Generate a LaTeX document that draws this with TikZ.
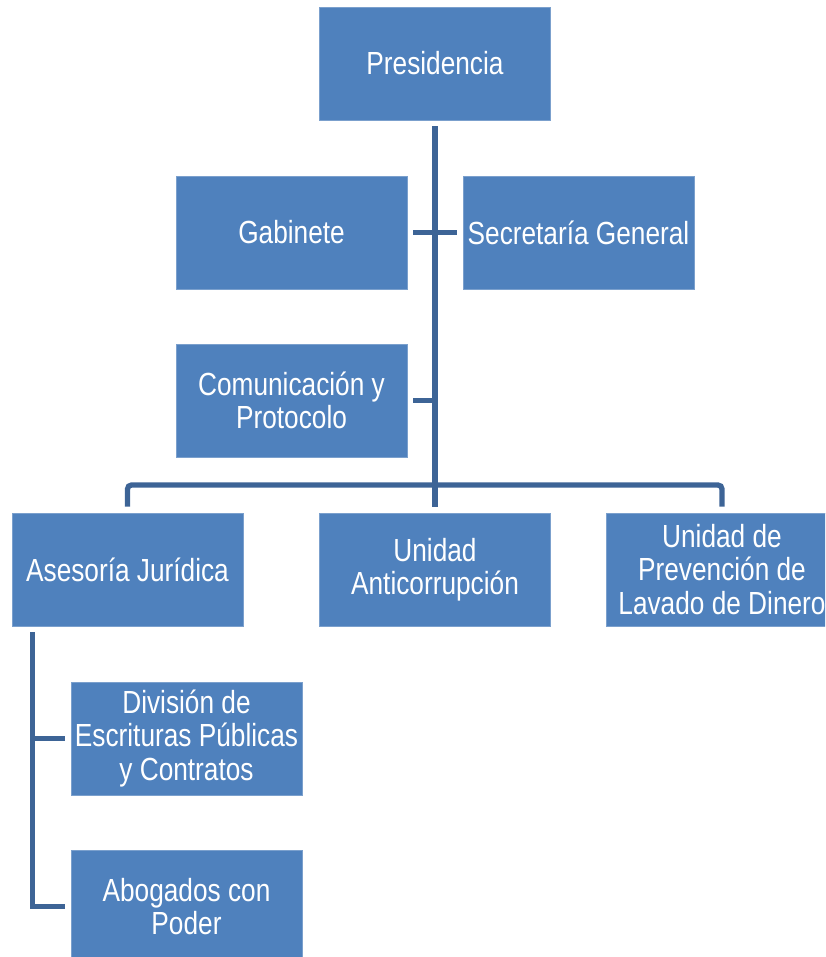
\documentclass[tikz,border=0pt]{standalone}
\usepackage{fontspec}
\setmainfont[FakeStretch=0.82]{Liberation Sans}
\usepackage{xcolor}
\usepackage{tikz}
\definecolor{boxblue}{HTML}{4F81BD}
\definecolor{lineblue}{HTML}{3D6496}
\tikzset{
    unit/.style={draw=boxblue!75!white, line width=0.8pt, fill=boxblue, text=white,
      minimum width=231pt, minimum height=113pt, inner sep=0pt, align=center,
      font=\fontsize{32}{33.5}\selectfont},
    link/.style={draw=lineblue, line width=5.3pt}}

\begin{document}
\begin{tikzpicture}[x=1pt, y=-1pt]
    \useasboundingbox (0,0) rectangle (825,957);
    \clip (0,0) rectangle (825,957);
    \node[unit] (pres) at (435, 63.5) {Presidencia};
    \node[unit] (gab) at (291.5, 232.5) {Gabinete};
    \node[unit] (sec) at (578.5, 232.5) {Secretaría General};
    \node[unit] (com) at (291.5, 400.5) {Comunicación y\\Protocolo};
    \node[unit] (ase) at (127.5, 569.5) {Asesoría Jurídica};
    \node[unit] (anti) at (435, 569.5) {Unidad\\Anticorrupción};
    \node[unit] (lav) at (722, 569.5) {Unidad de\\Prevención de\\Lavado de Dinero};
    \node[unit] (div) at (186.5, 738.5) {División de\\Escrituras Públicas\\y Contratos};
    \node[unit] (abo) at (186.5, 906.5) {Abogados con\\Poder};
    \coordinate (bus) at (435, 485);
    \coordinate (sub) at ([xshift=21pt, yshift=-6pt]ase.south west);
    \draw[link, shorten <=6pt, shorten >=6pt] (pres) -- (anti);
    \draw[link, shorten <=6pt, shorten >=6pt] (gab) -- (sec);
    \draw[link, shorten <=6pt] (com.east) -- (com.east -| pres.south);
    \draw[link, rounded corners=4pt] ([yshift=6pt]ase.north) |- (bus) -| ([yshift=6pt]lav.north);
    \draw[link] (sub) |- ([xshift=-6pt]abo.west);
    \draw[link] (sub |- div.west) -- ([xshift=-6pt]div.west);
\end{tikzpicture}
\end{document}
